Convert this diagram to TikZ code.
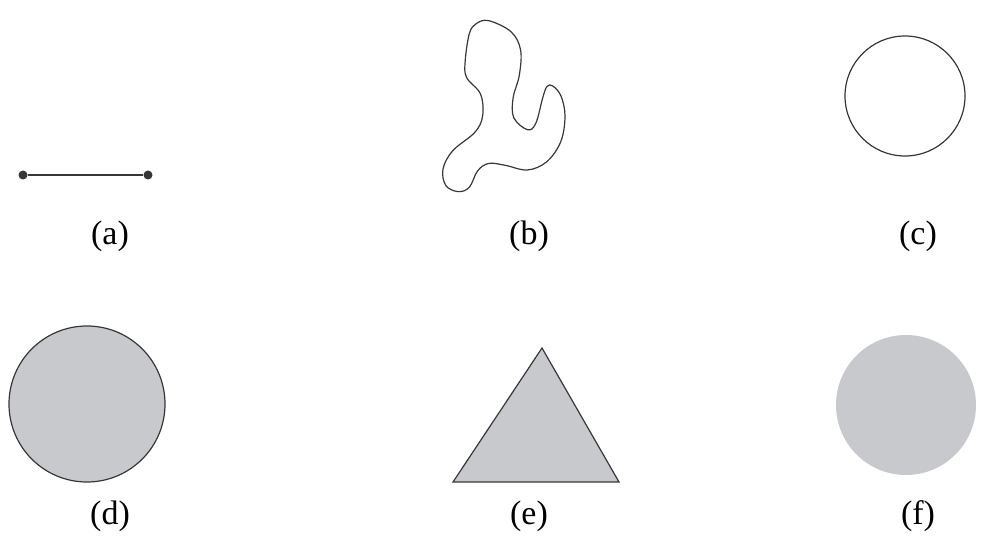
\documentclass[tikz,border=0pt]{standalone}
\usepackage{fontspec}
\setmainfont{Liberation Serif}
\usepackage{tikz}
\usetikzlibrary{positioning, calc}
\definecolor{shapegray}{RGB}{200, 201, 205}
\definecolor{inkgray}{RGB}{55, 55, 55}
\tikzset{
  outline/.style={draw=inkgray, line width=0.6pt},
  filled/.style={outline, fill=shapegray},
  endpt/.style={circle, fill=inkgray, inner sep=0pt, minimum size=4.5pt},
  caplabel/.style={font=\fontsize{17}{20}\selectfont, inner sep=0pt},
}

\begin{document}
\begin{tikzpicture}[x=0.5pt, y=-0.5pt]
  \useasboundingbox (0,0) rectangle (991,550);
  % (a) segment
  \node[endpt] (sa) at (23,175) {};
  \node[endpt] (sb) at (148,175) {};
  \draw[outline] (sa) -- (sb);
  % (b) closed curve
  \begin{scope}[shift={(443,20)}, xscale=122, yscale=172]
    \draw[outline] plot[smooth cycle, tension=0.6] coordinates {
      (0.375,0.004) (0.557,0.068) (0.636,0.174) (0.625,0.323) (0.575,0.451)
      (0.580,0.568) (0.693,0.638) (0.761,0.600) (0.818,0.451) (0.852,0.387)
      (0.898,0.383) (0.966,0.440) (1.000,0.557) (0.966,0.706) (0.852,0.823)
      (0.693,0.872) (0.511,0.845) (0.375,0.834) (0.284,0.877) (0.216,0.972)
      (0.125,0.998) (0.023,0.962) (0.000,0.866) (0.080,0.760) (0.261,0.653)
      (0.325,0.557) (0.307,0.430) (0.193,0.334) (0.182,0.238) (0.216,0.079)
      (0.273,0.021)};
  \end{scope}
  % (c) circle
  \node[outline, circle, minimum size=60pt, inner sep=0pt] (cc) at (905,96) {};
  % (d) disc with rim
  \node[filled, circle, minimum size=78pt, inner sep=0pt] (cd) at (87,404) {};
  % (e) triangle
  \coordinate (ta) at (542,348);
  \coordinate (tb) at (453,482);
  \coordinate (tc) at (619,482);
  \draw[filled] (ta) -- (tb) -- (tc) -- cycle;
  % (f) disc, no rim
  \node[fill=shapegray, circle, minimum size=70pt, inner sep=0pt] (cf) at (906,405) {};
  % labels
  \node[caplabel] (la) at (110,236) {(a)};
  \node[caplabel] (lb) at (529,236) {(b)};
  \node[caplabel] (lc) at (918,236) {(c)};
  \node[caplabel] (ld) at (110,516) {(d)};
  \node[caplabel] (le) at (529,516) {(e)};
  \node[caplabel] (lf) at (918,516) {(f)};
\end{tikzpicture}
\end{document}
